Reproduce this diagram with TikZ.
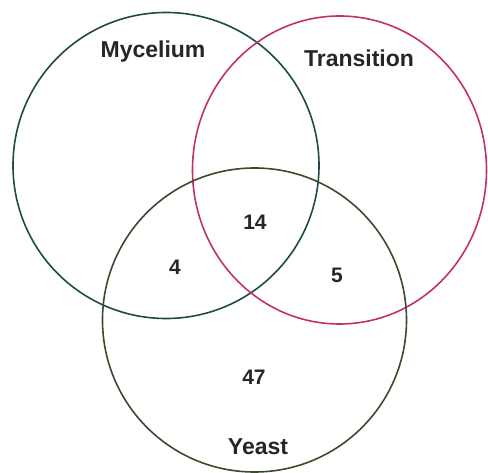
\documentclass[tikz,border=0pt]{standalone}
\usepackage{fontspec}
\setmainfont{Liberation Sans}
\definecolor{mycol}{HTML}{1F4A4A}
\definecolor{trcol}{HTML}{C2306C}
\definecolor{yecol}{HTML}{3B4A2C}
\begin{document}
\begin{tikzpicture}[x=1pt,y=-1pt,
  setcirc/.style={line width=1.6pt},
  lbl/.style={font=\bfseries\fontsize{23}{26}\selectfont, text=black!85, inner sep=0pt},
  num/.style={font=\bfseries\fontsize{21}{24}\selectfont, text=black!85, inner sep=0pt}]
\useasboundingbox (0,0) rectangle (488,473);
\draw[setcirc, mycol] (166,165.5) circle [radius=153];
\draw[setcirc, trcol] (339.5,170) ellipse [x radius=147, y radius=154];
\draw[setcirc, yecol] (254.5,320) circle [radius=152];
\node[lbl] (myc) at (153,52) {Mycelium};
\node[lbl] (tra) at (359,58) {Transition};
\node[lbl] (yea) at (258,447) {Yeast};
\node[num] (n14) at (255,222) {14};
\node[num] (n4) at (175,267) {4};
\node[num] (n5) at (337,275) {5};
\node[num] (n47) at (254,377) {47};
\end{tikzpicture}
\end{document}
